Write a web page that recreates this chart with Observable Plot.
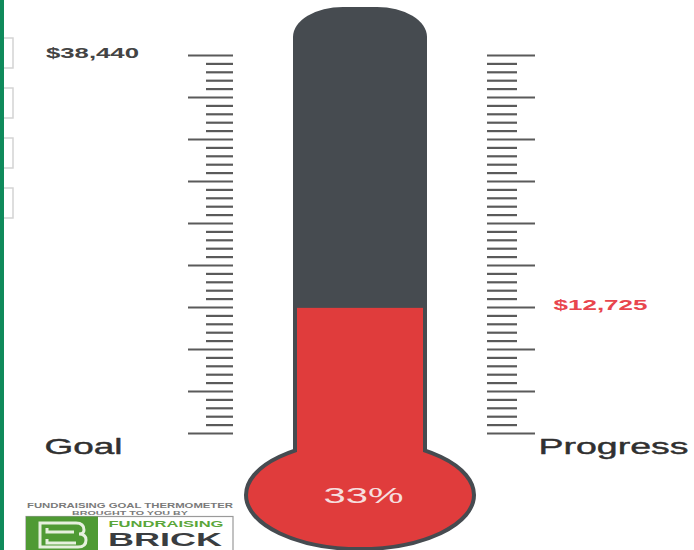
<!DOCTYPE html>
<html><head><meta charset="utf-8">
<script src="https://cdn.jsdelivr.net/npm/d3@7"></script>
<script src="https://cdn.jsdelivr.net/npm/@observablehq/plot@0.6"></script>
<style>html,body{margin:0;padding:0;background:#fff;} #chart{width:694px;height:550px;overflow:hidden}</style>
</head><body><div id="chart"></div>
<script>
// ---- data ----
const goal = 38440;
const raised = 12725;
const sideLabels = ["Goal", "Progress"];
const amountLabels = ["$38,440", "$12,725"];
const tickIntervals = 45;
const majorEvery = 5;
const logoLines = ["FUNDRAISING GOAL THERMOMETER", "BROUGHT TO YOU BY"];
const brandWords = ["FUNDRAISING", "BRICK"];

const pct = Math.round(raised / goal * 100) + "%";
const ticks = d3.range(tickIntervals + 1).map(i => ({v: goal * i / tickIntervals, major: i % majorEvery === 0}));

const W = 694, H = 550;
const yRange = [433, 55];
const yPx = d3.scaleLinear().domain([0, goal]).range(yRange);
const capTop = yPx.invert(7), tubeBottom = yPx.invert(495);
const dark = "#464b50", red = "#e03c3c", tickColor = "#5a5a5a";

function bulb(index, {x, y}) {
  return d3.create("svg:ellipse")
    .attr("cx", x(360)).attr("cy", y(yPx.invert(495)))
    .attr("rx", x(474) - x(360)).attr("ry", 54)
    .attr("fill", red).attr("stroke", dark).attr("stroke-width", 4).node();
}

function decorations(index, {x, y}) {
  const g = d3.create("svg:g");
  g.append("rect").attr("x", 0).attr("y", 0).attr("width", 4).attr("height", H).attr("fill", "#0f8a5b");
  [38, 88, 138, 188].forEach(t => {
    g.append("path").attr("d", `M4,${t}H13V${t + 30}H4`).attr("fill", "none").attr("stroke", "#d4d4d4").attr("stroke-width", 1.5);
  });
  // logo
  g.append("text").attr("x", 130).attr("y", 508).attr("text-anchor", "middle").attr("font-size", 6.5).attr("font-weight", "bold").attr("fill", "#7a7a7a").attr("textLength", 206).attr("lengthAdjust", "spacingAndGlyphs").text(logoLines[0]);
  g.append("text").attr("x", 130).attr("y", 514.5).attr("text-anchor", "middle").attr("font-size", 6).attr("font-weight", "bold").attr("fill", "#7a7a7a").attr("textLength", 116).attr("lengthAdjust", "spacingAndGlyphs").text(logoLines[1]);
  g.append("rect").attr("x", 26).attr("y", 516.5).attr("width", 207).attr("height", 40).attr("fill", "#fff").attr("stroke", "#9a9a9a").attr("stroke-width", 1.2);
  g.append("rect").attr("x", 26).attr("y", 516.5).attr("width", 72).attr("height", 40).attr("fill", "#4f9a34");
  g.append("path").attr("d", "M40,523H76Q84,523 84,530Q84,534 79,534Q86,534 86,540Q86,547 78,547H40Z M47,528V532H74 M47,539V543H76")
    .attr("fill", "none").attr("stroke", "#e6f0de").attr("stroke-width", 3);
  g.append("text").attr("x", 166).attr("y", 526.5).attr("text-anchor", "middle").attr("font-size", 9).attr("font-weight", "bold").attr("fill", "#5aa63a").attr("textLength", 115).attr("lengthAdjust", "spacingAndGlyphs").text(brandWords[0]);
  g.append("text").attr("x", 165).attr("y", 546).attr("text-anchor", "middle").attr("font-size", 18).attr("font-weight", "bold").attr("fill", "#3a3d40").attr("textLength", 114).attr("lengthAdjust", "spacingAndGlyphs").text(brandWords[1]);
  return g.node();
}

const chart = Plot.plot({
  width: W, height: H, margin: 0,
  x: {domain: [0, W], range: [0, W], axis: null},
  y: {domain: [0, goal], range: yRange, axis: null},
  style: {background: "#fff", fontFamily: "'Liberation Sans', Arial, sans-serif"},
  marks: [
    decorations,
    Plot.rect([goal], {x1: 293, x2: 427, y1: tubeBottom, y2: capTop, fill: dark, rx: 50, ry: 30}),
    bulb,
    Plot.rect([raised], {x1: 297, x2: 423, y1: yPx.invert(500), y2: d => d, fill: red}),
    Plot.ruleY(ticks, {y: "v", x1: d => d.major ? 188 : 206, x2: 233, stroke: tickColor, strokeWidth: 2.2}),
    Plot.ruleY(ticks, {y: "v", x1: 487, x2: d => d.major ? 535 : 517, stroke: tickColor, strokeWidth: 2.2}),
    Plot.text([amountLabels[0]], {x: 92, y: goal, dy: -2, text: d => d, fontSize: 15, fontWeight: "bold", fill: "#444"}),
    Plot.text([amountLabels[1]], {x: 600, y: raised, dy: -3, text: d => d, fontSize: 15, fontWeight: "bold", fill: "#e8464e"}),
    Plot.text([sideLabels[0]], {x: 83, y: 0, dy: 13, text: d => d, fontSize: 22, fill: "#303030", stroke: "#303030", strokeWidth: 0.4}),
    Plot.text([sideLabels[1]], {x: 613, y: 0, dy: 13, text: d => d, fontSize: 22, fill: "#303030", stroke: "#303030", strokeWidth: 0.4}),
    Plot.text([pct], {x: 363, y: 0, dy: 62, text: d => d, fontSize: 22, fill: "#f6dede"})
  ]
});
const widths = {"$38,440": 93, "$12,725": 94, "Goal": 78, "Progress": 150};
widths[pct] = 80;
d3.select(chart).selectAll("text").each(function () {
  const t = this.textContent;
  if (widths[t]) { this.setAttribute("textLength", widths[t]); this.setAttribute("lengthAdjust", "spacingAndGlyphs"); }
});
document.getElementById("chart").appendChild(chart);
</script>
</body></html>
